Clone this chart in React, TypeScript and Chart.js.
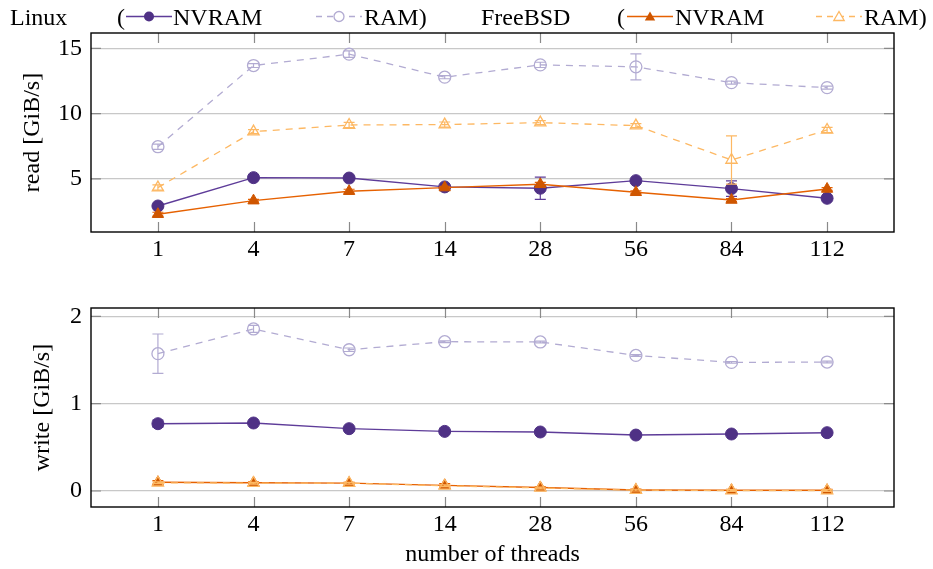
import React, { useEffect, useRef } from 'react';
import { Chart, registerables } from 'chart.js';

Chart.register(...registerables);

// ---------- data ----------
const threads = ['1', '4', '7', '14', '28', '56', '84', '112'];

const readLinuxNvram = [2.93, 5.1, 5.07, 4.39, 4.29, 4.87, 4.26, 3.52];
const readLinuxNvramErr = [0.08, 0.08, 0.08, 0.08, 0.85, 0.08, 0.6, 0.08];
const readLinuxRam = [7.47, 13.68, 14.55, 12.79, 13.73, 13.58, 12.37, 11.99];
const readLinuxRamErr = [0.2, 0.15, 0.25, 0.12, 0.2, 1.0, 0.12, 0.12];
const readBsdNvram = [2.3, 3.34, 4.06, 4.34, 4.59, 3.98, 3.39, 4.23];
const readBsdNvramErr = [0.15, 0.1, 0.15, 0.1, 0.15, 0.1, 0.1, 0.1];
const readBsdRam = [4.34, 8.62, 9.13, 9.16, 9.31, 9.08, 6.45, 8.75];
const readBsdRamErr = [0.2, 0.15, 0.2, 0.2, 0.15, 0.15, 1.84, 0.2];

const writeLinuxNvram = [0.771, 0.779, 0.714, 0.683, 0.676, 0.641, 0.653, 0.668];
const writeLinuxNvramErr = [0.04, 0.01, 0.01, 0.01, 0.01, 0.01, 0.01, 0.01];
const writeLinuxRam = [1.573, 1.856, 1.618, 1.71, 1.707, 1.553, 1.473, 1.477];
const writeLinuxRamErr = [0.225, 0.04, 0.02, 0.01, 0.01, 0.01, 0.01, 0.01];
const writeBsdNvram = [0.1, 0.095, 0.09, 0.065, 0.04, 0.012, 0.008, 0.008];
const writeBsdNvramErr = [0.02, 0.01, 0.01, 0.02, 0.01, 0.01, 0.01, 0.01];
const writeBsdRam = [0.095, 0.09, 0.09, 0.06, 0.035, 0.01, 0.005, 0.005];
const writeBsdRamErr = [0.01, 0.01, 0.01, 0.01, 0.01, 0.01, 0.01, 0.01];

const readTicks = [5, 10, 15];
const writeTicks = [0, 1, 2];

// ---------- styles ----------
const FONT = '"Liberation Serif", "Times New Roman", serif';
const C_LNV_LINE = '#5e3c99';
const C_LNV_MARK = '#4f3185';
const C_LRAM = '#b2abd2';
const C_BNV_LINE = '#e66101';
const C_BNV_MARK = '#cf5600';
const C_BRAM = '#fdb863';

const xy = (arr: number[]) => arr.map((v, i) => ({ x: i, y: v }));

function makeDatasets(lnv: number[], lnvE: number[], lram: number[], lramE: number[], bnv: number[], bnvE: number[], bram: number[], bramE: number[]) {
  return [
    {
      label: 'Linux NVRAM', data: xy(lnv), errors: lnvE, errColor: C_LNV_LINE,
      borderColor: C_LNV_LINE, backgroundColor: C_LNV_MARK, borderWidth: 1.4,
      pointStyle: 'circle', pointRadius: 6, pointBackgroundColor: C_LNV_MARK,
      pointBorderColor: C_LNV_MARK, pointBorderWidth: 1, order: 4,
    },
    {
      label: 'Linux RAM', data: xy(lram), errors: lramE, errColor: C_LRAM,
      borderColor: C_LRAM, backgroundColor: 'rgba(0,0,0,0)', borderWidth: 1.3, borderDash: [7, 6],
      pointStyle: 'circle', pointRadius: 6, pointBackgroundColor: 'rgba(0,0,0,0)',
      pointBorderColor: C_LRAM, pointBorderWidth: 1.3, order: 3,
    },
    {
      label: 'FreeBSD NVRAM', data: xy(bnv), errors: bnvE, errColor: C_BNV_LINE,
      borderColor: C_BNV_LINE, backgroundColor: C_BNV_MARK, borderWidth: 1.4,
      pointStyle: 'triangle', pointRadius: 6.5, pointBackgroundColor: C_BNV_MARK,
      pointBorderColor: C_BNV_MARK, pointBorderWidth: 1, order: 2,
    },
    {
      label: 'FreeBSD RAM', data: xy(bram), errors: bramE, errColor: C_BRAM,
      borderColor: C_BRAM, backgroundColor: 'rgba(0,0,0,0)', borderWidth: 1.3, borderDash: [7, 6],
      pointStyle: 'triangle', pointRadius: 6.5, pointBackgroundColor: 'rgba(0,0,0,0)',
      pointBorderColor: C_BRAM, pointBorderWidth: 1.3, order: 1,
    },
  ];
}

// ---------- plugins ----------
const errorBarPlugin = {
  id: 'errorBars',
  beforeDatasetDraw(chart: any, args: any) {
    const ds = chart.data.datasets[args.index];
    if (!ds.errors) return;
    const ctx = chart.ctx;
    const ys = chart.scales.y;
    const xs = chart.scales.x;
    ctx.save();
    ctx.strokeStyle = ds.errColor;
    ctx.lineWidth = 1.2;
    ctx.setLineDash([]);
    ds.data.forEach((p: any, i: number) => {
      const e = ds.errors[i];
      const px = xs.getPixelForValue(p.x);
      const yt = ys.getPixelForValue(p.y + e);
      const yb = ys.getPixelForValue(p.y - e);
      ctx.beginPath();
      ctx.moveTo(px, yt); ctx.lineTo(px, yb);
      ctx.moveTo(px - 5.5, yt); ctx.lineTo(px + 5.5, yt);
      ctx.moveTo(px - 5.5, yb); ctx.lineTo(px + 5.5, yb);
      ctx.stroke();
    });
    ctx.restore();
  },
};

const framePlugin = {
  id: 'frame',
  beforeDatasetsDraw(chart: any) {
    const { ctx, chartArea } = chart;
    const { left, right, top, bottom } = chartArea;
    const xs = chart.scales.x;
    const ys = chart.scales.y;
    const tl = 10;
    ctx.save();
    ctx.strokeStyle = '#8a8a8a';
    ctx.lineWidth = 1.2;
    ctx.beginPath();
    xs.ticks.forEach((t: any) => {
      const px = Math.round(xs.getPixelForValue(t.value)) + 0.5;
      ctx.moveTo(px, top); ctx.lineTo(px, top + tl);
      ctx.moveTo(px, bottom); ctx.lineTo(px, bottom - tl);
    });
    ys.ticks.forEach((t: any) => {
      const py = ys.getPixelForValue(t.value);
      ctx.moveTo(left, py); ctx.lineTo(left + tl, py);
      ctx.moveTo(right, py); ctx.lineTo(right - tl, py);
    });
    ctx.stroke();
    ctx.strokeStyle = '#000';
    ctx.lineWidth = 1.4;
    ctx.strokeRect(left, top, right - left, bottom - top);
    ctx.restore();
  },
};

function drawTri(ctx: CanvasRenderingContext2D, x: number, y: number, r: number) {
  ctx.beginPath();
  for (let k = 0; k < 3; k++) {
    const a = (k * 2 * Math.PI) / 3;
    const px = x + Math.sin(a) * r;
    const py = y - Math.cos(a) * r;
    if (k === 0) ctx.moveTo(px, py); else ctx.lineTo(px, py);
  }
  ctx.closePath();
}

const legendPlugin = {
  id: 'customLegend',
  afterDraw(chart: any) {
    const ctx: CanvasRenderingContext2D = chart.ctx;
    ctx.save();
    ctx.font = `24px ${FONT}`;
    ctx.fillStyle = '#000';
    ctx.textBaseline = 'alphabetic';
    ctx.textAlign = 'left';
    const by = 25;
    const my = 16.5;
    ctx.fillText('Linux', 10, by);
    ctx.fillText('(', 117, by);
    // Linux NVRAM sample
    ctx.strokeStyle = C_LNV_LINE; ctx.lineWidth = 1.4; ctx.setLineDash([]);
    ctx.beginPath(); ctx.moveTo(126, my); ctx.lineTo(172, my); ctx.stroke();
    ctx.fillStyle = C_LNV_MARK;
    ctx.beginPath(); ctx.arc(149, my, 5, 0, Math.PI * 2); ctx.fill();
    ctx.fillStyle = '#000';
    ctx.fillText('NVRAM', 173, by);
    // Linux RAM sample
    ctx.strokeStyle = C_LRAM; ctx.lineWidth = 1.3; ctx.setLineDash([6, 5]);
    ctx.beginPath(); ctx.moveTo(316, my); ctx.lineTo(362, my); ctx.stroke();
    ctx.setLineDash([]);
    ctx.fillStyle = '#fff';
    ctx.beginPath(); ctx.arc(339, my, 5, 0, Math.PI * 2); ctx.fill(); ctx.stroke();
    ctx.fillStyle = '#000';
    ctx.fillText('RAM)', 364, by);
    ctx.fillText('FreeBSD', 481, by);
    ctx.fillText('(', 617, by);
    // FreeBSD NVRAM sample
    ctx.strokeStyle = C_BNV_LINE; ctx.lineWidth = 1.4;
    ctx.beginPath(); ctx.moveTo(627, my); ctx.lineTo(673, my); ctx.stroke();
    ctx.fillStyle = C_BNV_MARK;
    drawTri(ctx, 650, my + 1, 6); ctx.fill();
    ctx.fillStyle = '#000';
    ctx.fillText('NVRAM', 675, by);
    // FreeBSD RAM sample
    ctx.strokeStyle = C_BRAM; ctx.lineWidth = 1.3; ctx.setLineDash([6, 5]);
    ctx.beginPath(); ctx.moveTo(816, my); ctx.lineTo(862, my); ctx.stroke();
    ctx.setLineDash([]);
    ctx.fillStyle = '#fff';
    drawTri(ctx, 839, my + 1, 6); ctx.fill(); ctx.stroke();
    ctx.fillStyle = '#000';
    ctx.fillText('RAM)', 864, by);
    ctx.restore();
  },
};

function makeOptions(opts: {
  yMin: number; yMax: number; yTicks: number[]; yTitle: string; yTitlePad: number;
  padTop: number; xHeight: number; xTitle?: string;
}) {
  return {
    responsive: false,
    animation: false,
    events: [],
    layout: { padding: { top: opts.padTop, right: 39, left: 0, bottom: 0 } },
    plugins: { legend: { display: false }, tooltip: { enabled: false } },
    scales: {
      x: {
        type: 'linear',
        min: -0.7,
        max: 7.7,
        afterBuildTicks: (scale: any) => { scale.ticks = threads.map((_, i) => ({ value: i })); },
        afterFit: (scale: any) => { scale.height = opts.xHeight; },
        grid: { display: false, drawTicks: false },
        border: { display: false },
        ticks: {
          padding: 3,
          autoSkip: false,
          maxRotation: 0,
          color: '#000',
          font: { family: FONT, size: 24 },
          callback: (v: any) => threads[v] ?? '',
        },
        title: opts.xTitle
          ? { display: true, text: opts.xTitle, color: '#000', font: { family: FONT, size: 24 }, padding: { top: 0, bottom: 0 } }
          : { display: false },
      },
      y: {
        type: 'linear',
        min: opts.yMin,
        max: opts.yMax,
        afterBuildTicks: (scale: any) => { scale.ticks = opts.yTicks.map((v) => ({ value: v })); },
        afterFit: (scale: any) => { scale.width = 91; },
        grid: { color: '#c8c8c8', lineWidth: 1.3, drawTicks: false },
        border: { display: false },
        ticks: {
          padding: 9,
          color: '#000',
          font: { family: FONT, size: 24 },
          callback: (v: any) => String(v),
        },
        title: {
          display: true, text: opts.yTitle, color: '#000',
          font: { family: FONT, size: 24 }, padding: { top: opts.yTitlePad, bottom: 0 },
        },
      },
    },
  } as any;
}

export default function App() {
  const readRef = useRef<HTMLCanvasElement>(null);
  const writeRef = useRef<HTMLCanvasElement>(null);

  useEffect(() => {
    const c1 = new Chart(readRef.current as HTMLCanvasElement, {
      type: 'line',
      data: {
        datasets: makeDatasets(readLinuxNvram, readLinuxNvramErr, readLinuxRam, readLinuxRamErr,
          readBsdNvram, readBsdNvramErr, readBsdRam, readBsdRamErr) as any,
      },
      options: makeOptions({ yMin: 0.94, yMax: 16.17, yTicks: readTicks, yTitle: 'read [GiB/s]', yTitlePad: 18.5, padTop: 33, xHeight: 38 }),
      plugins: [framePlugin, errorBarPlugin, legendPlugin],
    });
    const c2 = new Chart(writeRef.current as HTMLCanvasElement, {
      type: 'line',
      data: {
        datasets: makeDatasets(writeLinuxNvram, writeLinuxNvramErr, writeLinuxRam, writeLinuxRamErr,
          writeBsdNvram, writeBsdNvramErr, writeBsdRam, writeBsdRamErr) as any,
      },
      options: makeOptions({ yMin: -0.183, yMax: 2.096, yTicks: writeTicks, yTitle: 'write [GiB/s]', yTitlePad: 28.5, padTop: 38, xHeight: 62, xTitle: 'number of threads' }),
      plugins: [framePlugin, errorBarPlugin],
    });
    return () => { c1.destroy(); c2.destroy(); };
  }, []);

  return (
    <div style={{ position: 'absolute', left: 0, top: 0, width: 933, height: 569, background: '#fff' }}>
      <canvas ref={readRef} width={933} height={270} style={{ position: 'absolute', left: 0, top: 0, display: 'block' }} />
      <canvas ref={writeRef} width={933} height={299} style={{ position: 'absolute', left: 0, top: 270, display: 'block' }} />
    </div>
  );
}
